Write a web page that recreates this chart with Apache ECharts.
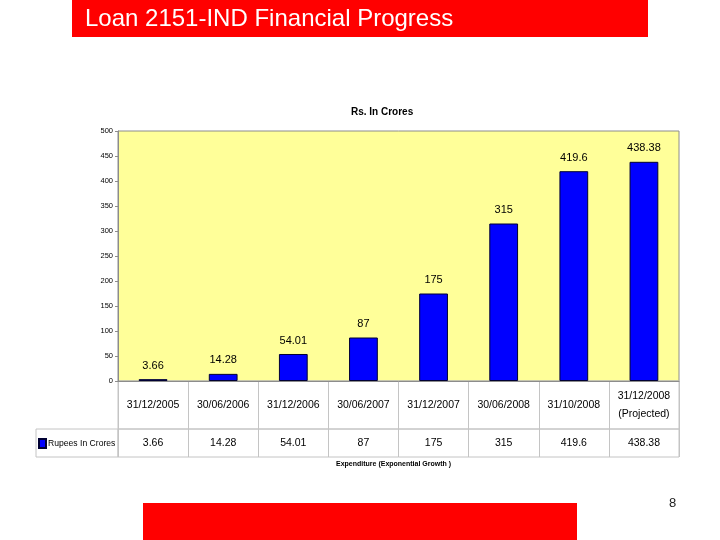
<!DOCTYPE html>
<html>
<head>
<meta charset="utf-8">
<script src="https://cdn.jsdelivr.net/npm/echarts@6/dist/echarts.min.js"></script>
<style>
html,body{margin:0;padding:0;background:#fff;}
#c{width:720px;height:540px;}
</style>
</head>
<body>
<div id="c"></div>
<script>
const categories = ['31/12/2005','30/06/2006','31/12/2006','30/06/2007','31/12/2007','30/06/2008','31/10/2008','31/12/2008\n(Projected)'];
const rupeesInCrores = [3.66, 14.28, 54.01, 87, 175, 315, 419.6, 438.38];
const valueLabels = ['3.66','14.28','54.01','87','175','315','419.6','438.38'];
const seriesName = 'Rupees In Crores';

const SANS = "'Liberation Sans',Arial,sans-serif";
const chart = echarts.init(document.getElementById('c'), null, {renderer:'canvas'});
const PL = 118, PW = 561;

chart.setOption({
  animation: false,
  backgroundColor: '#ffffff',
  title: [
    {text: 'Loan 2151-IND Financial Progress', left: 85, top: 7, padding: 0,
     textStyle: {color: '#ffffff', fontSize: 24, fontWeight: 'normal', fontFamily: SANS}},
    {text: 'Rs. In Crores', left: 351, top: 107, padding: 0,
     textStyle: {color: '#000', fontSize: 10, fontWeight: 'bold', fontFamily: SANS}},
    {text: 'Expenditure (Exponential Growth )', left: 336, top: 461, padding: 0,
     textStyle: {color: '#000', fontSize: 7, fontWeight: 'bold', fontFamily: SANS}}
  ],
  graphic: [
    {type: 'rect', left: 72, top: 0, z: -1, shape: {width: 576, height: 37}, style: {fill: '#ff0000'}},
    {type: 'rect', left: 143, top: 503, z: -1, shape: {width: 434, height: 37}, style: {fill: '#ff0000'}},
    {type: 'text', left: 669, top: 497, style: {text: '8', fill: '#222', font: "13px 'Liberation Sans', Arial, sans-serif"}}
  ],
  legend: {
    left: 38, top: 438, padding: 0, icon: 'rect', itemWidth: 7, itemHeight: 9, itemGap: 2,
    data: [seriesName],
    textStyle: {fontSize: 8.6, fontFamily: SANS, color: '#000', padding: [0,0,0,-3]}
  },
  grid: [
    {left: PL, top: 131, width: PW, height: 250, show: true, backgroundColor: '#ffff99', borderColor: '#8c8c8c', borderWidth: 1},
    {left: PL, top: 381, width: PW, height: 48, show: true, backgroundColor: 'transparent', borderColor: '#c4c4c4', borderWidth: 1},
    {left: PL, top: 429, width: PW, height: 28, show: true, backgroundColor: 'transparent', borderColor: '#c4c4c4', borderWidth: 1},
    {left: 36, top: 429, width: 82, height: 28, show: true, backgroundColor: 'transparent', borderColor: '#c4c4c4', borderWidth: 1}
  ],
  xAxis: [
    {gridIndex: 0, type: 'category', data: categories,
     axisLine: {show: true, lineStyle: {color: '#8c8c8c'}}, axisTick: {show: false},
     axisLabel: {interval: 0, margin: 24, verticalAlign: 'middle', lineHeight: 18, fontSize: 10.5, fontFamily: SANS, color: '#000'}},
    {gridIndex: 1, type: 'category', data: categories, axisLine: {show: false}, axisTick: {show: false}, axisLabel: {show: false},
     splitLine: {show: true, interval: 0, lineStyle: {color: '#c4c4c4'}}},
    {gridIndex: 2, type: 'category', data: valueLabels, axisLine: {show: false}, axisTick: {show: false},
     axisLabel: {interval: 0, inside: true, margin: 14, verticalAlign: 'middle', fontSize: 10.5, fontFamily: SANS, color: '#000'},
     splitLine: {show: true, interval: 0, lineStyle: {color: '#c4c4c4'}}},
    {gridIndex: 3, type: 'value', show: false}
  ],
  yAxis: [
    {gridIndex: 0, type: 'value', min: 0, max: 500, interval: 50,
     axisLine: {show: true, lineStyle: {color: '#8c8c8c'}},
     axisTick: {show: true, length: 3, lineStyle: {color: '#8c8c8c'}},
     splitLine: {show: false},
     axisLabel: {fontSize: 7.5, fontFamily: SANS, color: '#000', margin: 5}},
    {gridIndex: 1, type: 'value', show: false},
    {gridIndex: 2, type: 'value', show: false},
    {gridIndex: 3, type: 'value', show: false}
  ],
  series: [{
    name: seriesName, type: 'bar', xAxisIndex: 0, yAxisIndex: 0,
    data: rupeesInCrores, barWidth: '41%',
    itemStyle: {color: '#0000ff', borderColor: '#000033', borderWidth: 1},
    label: {show: true, position: 'top', distance: 8, fontSize: 11, fontFamily: SANS, color: '#000',
            formatter: p => valueLabels[p.dataIndex]}
  }]
});
</script>
</body>
</html>
